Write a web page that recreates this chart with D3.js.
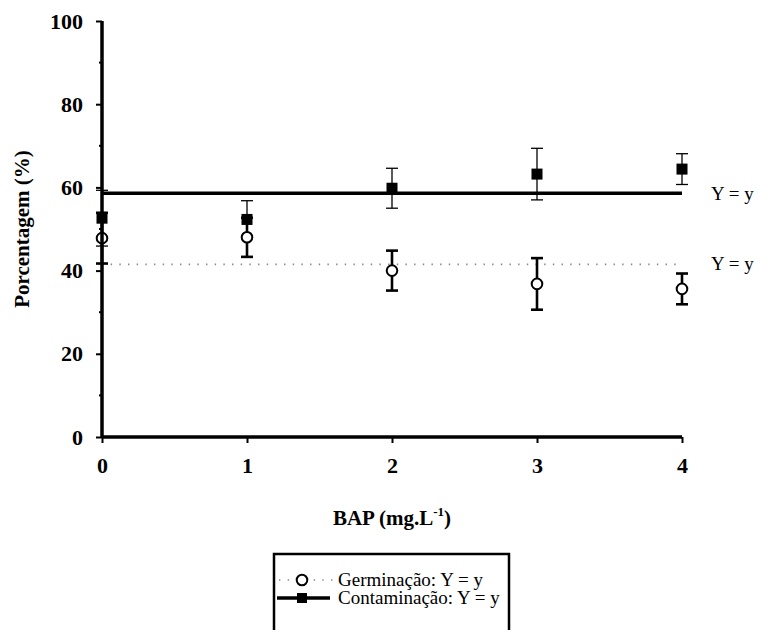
<!DOCTYPE html>
<html>
<head>
<meta charset="utf-8">
<script src="https://cdn.jsdelivr.net/npm/d3@7"></script>
<style>
  html, body { margin: 0; padding: 0; background: #fff; }
  svg { display: block; font-family: "Liberation Serif", "Times New Roman", serif; }
</style>
</head>
<body>
<svg id="chart" width="758" height="630"></svg>
<script>
// ---- data ----
const doses = [0, 1, 2, 3, 4];
const xTicks = [0, 1, 2, 3, 4];
const yTicks = [0, 20, 40, 60, 80, 100];
const yMinorTicks = [10, 30, 50, 70, 90];
const germinacao = [47.8, 48.0, 40.0, 36.8, 35.6];
const germinacaoErr = [6.1, 4.7, 4.8, 6.2, 3.7];
const contaminacao = [52.6, 52.3, 59.8, 63.2, 64.4];
const contaminacaoErr = [6.7, 4.5, 4.8, 6.2, 3.7];
const fitGerminacao = 41.5;
const fitContaminacao = 58.6;
const fitLabels = ["Y = y", "Y = y"];
const legendLabels = ["Germinação: Y = y", "Contaminação: Y = y"];

// ---- layout ----
const FONT = "'Liberation Serif', 'Times New Roman', serif";
const svg = d3.select("#chart");
const x = d3.scaleLinear().domain([0, 4]).range([102, 682]);
const y = d3.scaleLinear().domain([0, 100]).range([437, 21]);

const g = svg.append("g");

// fit lines
g.append("line")
  .attr("x1", x(0)).attr("x2", x(4))
  .attr("y1", y(fitGerminacao)).attr("y2", y(fitGerminacao))
  .attr("stroke", "#888").attr("stroke-width", 1.6)
  .attr("stroke-dasharray", "1.4 7.27");
g.append("line")
  .attr("x1", x(0)).attr("x2", x(4))
  .attr("y1", y(fitContaminacao)).attr("y2", y(fitContaminacao))
  .attr("stroke", "#000").attr("stroke-width", 3.5);

// fit labels
g.append("text").attr("x", 711).attr("y", y(fitContaminacao) + 7)
  .attr("font-family", FONT).attr("font-size", 19).text(fitLabels[1]);
g.append("text").attr("x", 711).attr("y", y(fitGerminacao) + 6)
  .attr("font-family", FONT).attr("font-size", 19).text(fitLabels[0]);

// error bars helper
function errorBars(vals, errs, sw, capW) {
  const eg = g.append("g").attr("stroke", "#000").attr("stroke-width", sw);
  doses.forEach((d, i) => {
    const cx = x(d);
    const y1 = y(vals[i] + errs[i]), y2 = y(vals[i] - errs[i]);
    eg.append("line").attr("x1", cx).attr("x2", cx).attr("y1", y1).attr("y2", y2);
    eg.append("line").attr("x1", cx - capW / 2).attr("x2", cx + capW / 2).attr("y1", y1).attr("y2", y1);
    eg.append("line").attr("x1", cx - capW / 2).attr("x2", cx + capW / 2).attr("y1", y2).attr("y2", y2);
  });
}
errorBars(contaminacao, contaminacaoErr, 1.3, 12);
errorBars(germinacao, germinacaoErr, 2.6, 12);

// markers
g.selectAll("rect.cont").data(doses).enter().append("rect")
  .attr("class", "cont")
  .attr("x", d => x(d) - 5.5).attr("y", (d, i) => y(contaminacao[i]) - 5.5)
  .attr("width", 11).attr("height", 11).attr("fill", "#000");
g.selectAll("circle.germ").data(doses).enter().append("circle")
  .attr("class", "germ")
  .attr("cx", d => x(d)).attr("cy", (d, i) => y(germinacao[i]))
  .attr("r", 5.3).attr("fill", "#fff").attr("stroke", "#000").attr("stroke-width", 2);

// axes
const yAxis = d3.axisLeft(y).tickValues(yTicks).tickSize(6).tickPadding(13).tickFormat(d3.format("d"));
const yAx = svg.append("g").attr("transform", `translate(${x(0)},0)`).call(yAxis);
yAx.attr("font-family", FONT);
yAx.select(".domain").attr("stroke-width", 3.5).attr("d", `M0,${y(100)}V${y(0)}`);
yAx.selectAll(".tick line").attr("stroke-width", 2);
yAx.selectAll(".tick text").attr("font-size", 22).attr("font-weight", "bold")
  .attr("font-family", FONT).attr("fill", "#000");
// minor ticks
yAx.selectAll("line.minor").data(yMinorTicks).enter().append("line")
  .attr("class", "minor").attr("x1", -3).attr("x2", 0)
  .attr("y1", d => y(d)).attr("y2", d => y(d))
  .attr("stroke", "#000").attr("stroke-width", 2);

const xAxis = d3.axisBottom(x).tickValues(xTicks).tickSize(6).tickPadding(14).tickFormat(d3.format("d"));
const xAx = svg.append("g").attr("transform", `translate(0,${y(0)})`).call(xAxis);
xAx.attr("font-family", FONT);
xAx.select(".domain").attr("stroke-width", 3.5).attr("d", `M${x(0)},0H${x(4)}`);
xAx.selectAll(".tick line").attr("stroke-width", 2);
xAx.selectAll(".tick text").attr("font-size", 22).attr("font-weight", "bold")
  .attr("font-family", FONT).attr("fill", "#000");

// axis titles
svg.append("text")
  .attr("transform", `translate(29,229) rotate(-90)`)
  .attr("text-anchor", "middle").attr("font-family", FONT)
  .attr("font-size", 21).attr("font-weight", "bold")
  .text("Porcentagem (%)");
const xt = svg.append("text")
  .attr("x", 392).attr("y", 525)
  .attr("text-anchor", "middle").attr("font-family", FONT)
  .attr("font-size", 21).attr("font-weight", "bold");
xt.append("tspan").text("BAP (mg.L");
xt.append("tspan").attr("font-size", 13).attr("dy", -9).text("-1");
xt.append("tspan").attr("dy", 9).text(")");

// legend
const lg = svg.append("g");
lg.append("rect").attr("x", 274).attr("y", 554).attr("width", 235).attr("height", 90)
  .attr("fill", "#fff").attr("stroke", "#000").attr("stroke-width", 2.5);
// row 1
lg.append("line").attr("x1", 279).attr("x2", 333).attr("y1", 580).attr("y2", 580)
  .attr("stroke", "#888").attr("stroke-width", 1.6).attr("stroke-dasharray", "1.4 7.27");
lg.append("circle").attr("cx", 302).attr("cy", 580).attr("r", 5.3)
  .attr("fill", "#fff").attr("stroke", "#000").attr("stroke-width", 2);
lg.append("text").attr("x", 338).attr("y", 586).attr("font-family", FONT)
  .attr("font-size", 19).text(legendLabels[0]);
// row 2
lg.append("line").attr("x1", 277).attr("x2", 330).attr("y1", 598).attr("y2", 598)
  .attr("stroke", "#000").attr("stroke-width", 3.5);
lg.append("rect").attr("x", 297).attr("y", 593).attr("width", 10).attr("height", 10).attr("fill", "#000");
lg.append("text").attr("x", 338).attr("y", 604).attr("font-family", FONT)
  .attr("font-size", 19).text(legendLabels[1]);
</script>
</body>
</html>
